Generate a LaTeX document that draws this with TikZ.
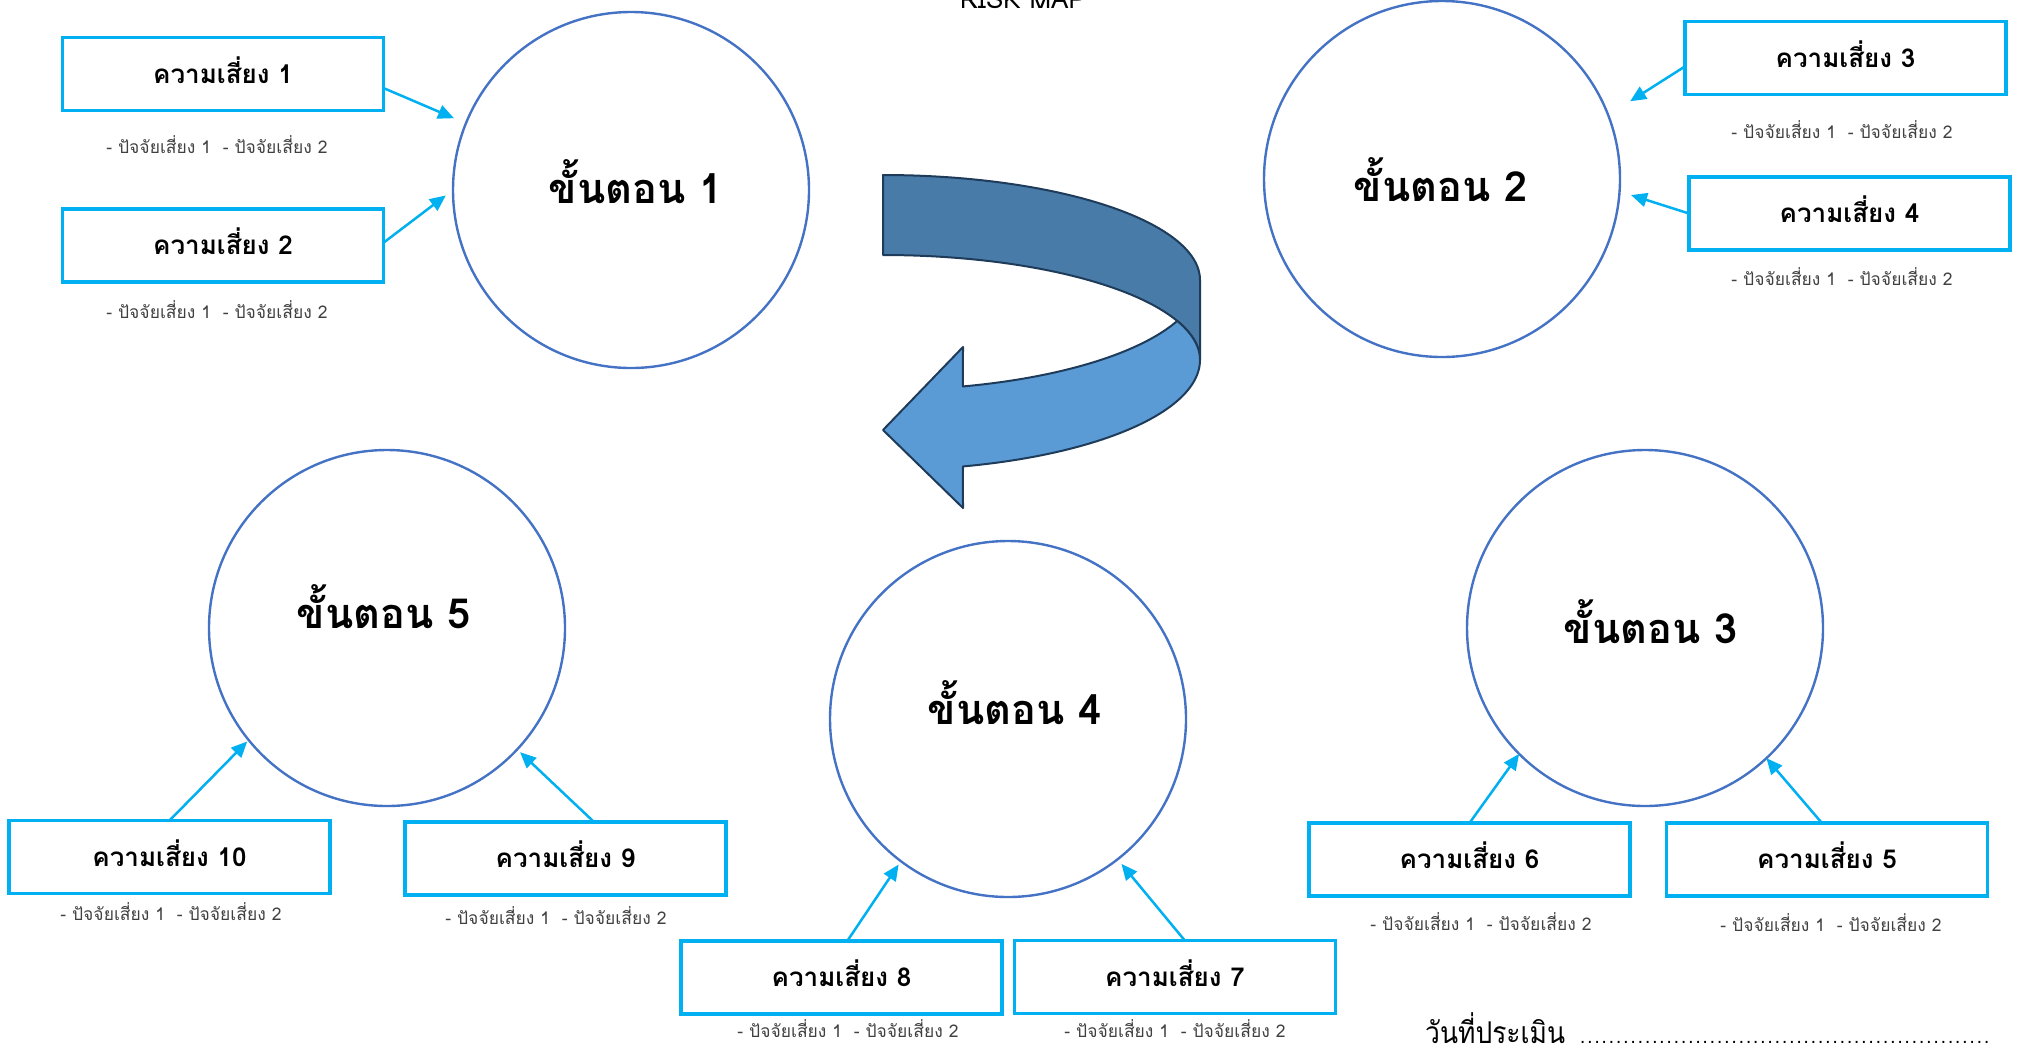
\documentclass[tikz,border=0pt]{standalone}
\usepackage{fontspec}
\newfontfamily\thaifont[Script=Thai]{Loma}
\newfontfamily\thainarrow[Script=Thai,FakeStretch=0.88]{Loma}
\usetikzlibrary{arrows.meta}
\definecolor{ringblue}{HTML}{4472C4}
\definecolor{boxcyan}{HTML}{00B0F0}
\definecolor{bandlight}{HTML}{5B9BD5}
\definecolor{banddark}{HTML}{487BA7}
\definecolor{bandedge}{HTML}{1F3B5A}
\definecolor{notegray}{HTML}{404040}

\begin{document}
\begin{tikzpicture}[x=1pt,y=-1pt,
  stage/.style={circle,draw=ringblue,line width=2.4pt,minimum size=356pt,inner sep=0pt,outer sep=0pt},
  stagelabel/.style={anchor=base,font=\thaifont\bfseries\fontsize{41.5}{48}\selectfont},
  riskbox/.style={draw=boxcyan,line width=3.3pt,minimum width=321pt,minimum height=73pt,
    inner sep=0pt,outer sep=0pt,text height=18pt,text depth=0pt,
    font=\thaifont\bfseries\fontsize{26}{30}\selectfont},
  factors/.style={anchor=base,text=notegray,font=\thaifont\fontsize{17.5}{21}\selectfont},
  link/.style={draw=boxcyan,line width=2.5pt,-{Triangle[length=16pt,width=14pt]}},
  band/.style={draw=bandedge,line width=2pt,line join=round},
]
\useasboundingbox (0,0) rectangle (2018,1050);
\clip (0,0) rectangle (2018,1050);

% title
\node[anchor=base,font=\thaifont\fontsize{26}{30}\selectfont] (title) at (1023,8) {RISK MAP};

% process stages
\node[stage] (s1) at (631,190) {};
\node[stage] (s2) at (1442,179) {};
\node[stage] (s3) at (1645,628) {};
\node[stage] (s4) at (1008,719) {};
\node[stage] (s5) at (387,628) {};
\node[stagelabel] (l1) at (636,203) {ขั้นตอน 1};
\node[stagelabel] (l2) at (1441,201) {ขั้นตอน 2};
\node[stagelabel] (l3) at (1651,643) {ขั้นตอน 3};
\node[stagelabel] (l4) at (1015,724) {ขั้นตอน 4};
\node[stagelabel] (l5) at (384,628) {ขั้นตอน 5};

% risk boxes
\node[riskbox] (r1) at (223,74) {ความเสี่ยง 1};
\node[riskbox] (r2) at (223,245.5) {ความเสี่ยง 2};
\node[riskbox] (r3) at (1845.5,58) {ความเสี่ยง 3};
\node[riskbox] (r4) at (1849.5,213.5) {ความเสี่ยง 4};
\node[riskbox] (r5) at (1827,859.5) {ความเสี่ยง 5};
\node[riskbox] (r6) at (1469.5,859.5) {ความเสี่ยง 6};
\node[riskbox] (r7) at (1175,977) {ความเสี่ยง 7};
\node[riskbox] (r8) at (841.5,977.5) {ความเสี่ยง 8};
\node[riskbox] (r9) at (565.5,858.5) {ความเสี่ยง 9};
\node[riskbox] (r10) at (169.5,857) {ความเสี่ยง 10};

% risk factors under each box
\node[factors] (f1) at (217,153) {- ปัจจัยเสี่ยง 1~~- ปัจจัยเสี่ยง 2};
\node[factors] (f2) at (217,318) {- ปัจจัยเสี่ยง 1~~- ปัจจัยเสี่ยง 2};
\node[factors] (f3) at (1842,138) {- ปัจจัยเสี่ยง 1~~- ปัจจัยเสี่ยง 2};
\node[factors] (f4) at (1842,285) {- ปัจจัยเสี่ยง 1~~- ปัจจัยเสี่ยง 2};
\node[factors] (f5) at (1831,931) {- ปัจจัยเสี่ยง 1~~- ปัจจัยเสี่ยง 2};
\node[factors] (f6) at (1481,930) {- ปัจจัยเสี่ยง 1~~- ปัจจัยเสี่ยง 2};
\node[factors] (f7) at (1175,1037) {- ปัจจัยเสี่ยง 1~~- ปัจจัยเสี่ยง 2};
\node[factors] (f8) at (848,1037) {- ปัจจัยเสี่ยง 1~~- ปัจจัยเสี่ยง 2};
\node[factors] (f9) at (556,924) {- ปัจจัยเสี่ยง 1~~- ปัจจัยเสี่ยง 2};
\node[factors] (f10) at (171,920) {- ปัจจัยเสี่ยง 1~~- ปัจจัยเสี่ยง 2};

% connectors
\draw[link,shorten >=13pt] (r1.-5) -- (s1.158.4);
\draw[link,shorten >=9pt] (r2.1) -- (s1.180.6);
\draw[link,shorten >=26pt] (r3.183) -- (s2.21.8);
\draw[link,shorten >=12pt] (r4.west) -- (s2.-4.5);
\draw[link] (r5.98) -- (s3.-47.8);
\draw[link] (r6.north) -- (s3.225);
\draw[link,shorten >=6pt] (r7.75) -- (s4.-52);
\draw[link,shorten >=4pt] (r8.81) -- (s4.233);
\draw[link,shorten >=4pt] (r9.52) -- (s5.-43.5);
\draw[link,shorten >=2pt] (r10.north) -- (s5.219.4);

% curved ribbon arrow: back strip
\filldraw[band,fill=banddark]
  plot[domain=90:0,samples=50] ({883+317*cos(\x)},{280-105*sin(\x)})
  -- (1200,360)
  -- plot[domain=0:90,samples=50] ({883+317*cos(\x)},{360-105*sin(\x)})
  -- cycle;
% front strip with head
\filldraw[band,fill=bandlight]
  plot[domain=0:75.4,samples=50] ({883+317*cos(\x)},{360+110*sin(\x)})
  -- (963,508) -- (883,430) -- (963,347)
  -- plot[domain=75.4:21.8,samples=40] ({883+317*cos(\x)},{280+110*sin(\x)})
  -- plot[domain=21.8:0,samples=20] ({883+317*cos(\x)},{360-105*sin(\x)})
  -- cycle;

% assessment date line
\node[anchor=base west,inner sep=0pt,font=\thainarrow\fontsize{30}{36}\selectfont] (date) at (1425,1043)
  {วันที่ประเมิน\hspace{14pt}{\fontsize{21}{24}\selectfont\hbox to 411pt{\xleaders\hbox to 7.2pt{\hss.\hss}\hfill}}};
\end{tikzpicture}
\end{document}
